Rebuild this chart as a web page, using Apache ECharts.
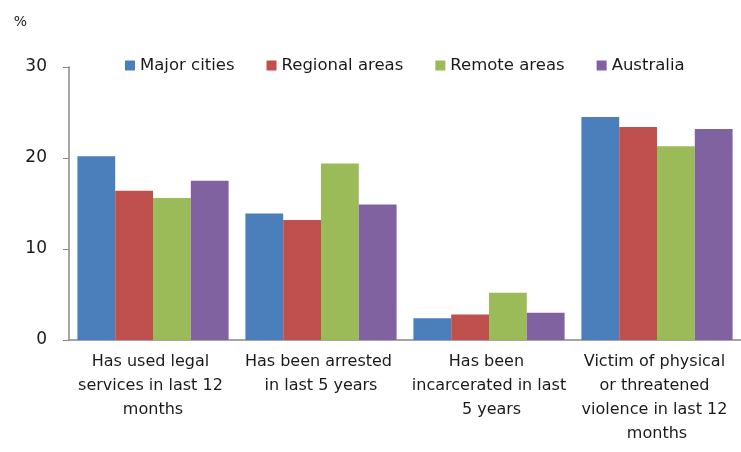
<!DOCTYPE html>
<html>
<head>
<meta charset="utf-8">
<script src="https://cdn.jsdelivr.net/npm/echarts@6/dist/echarts.min.js"></script>
<style>
  html, body { margin: 0; padding: 0; background: #fff; }
  #main { width: 741px; height: 452px; }
</style>
</head>
<body>
<div id="main"></div>
<script>
// categories and values
var categories = [
    'Has used legal services in last 12 months',
    'Has been arrested in last 5 years',
    'Has been incarcerated in last 5 years',
    'Victim of physical or threatened violence in last 12 months'
];
var majorCities = [20.2, 13.9, 2.4, 24.5];
var regionalAreas = [16.4, 13.2, 2.8, 23.4];
var remoteAreas = [15.6, 19.4, 5.2, 21.3];
var australia = [17.5, 14.9, 3.0, 23.2];
var yTicks = [0, 10, 20, 30];

var fontName = 'DejaVu Sans, sans-serif';
var textColor = '#1a1a1a';

function makeSeries(name, data, color) {
    return {
        name: name,
        type: 'bar',
        data: data,
        barGap: '0%',
        barCategoryGap: '10%',
        itemStyle: { color: color }
    };
}

var chart = echarts.init(document.getElementById('main'));
chart.setOption({
    animation: false,
    textStyle: { fontFamily: fontName },
    grid: { left: 69, right: 0, top: 67, bottom: 112 },
    legend: {
        top: 52,
        left: 120,
        itemWidth: 10,
        itemHeight: 10,
        itemGap: 32,
        icon: 'rect',
        textStyle: { fontSize: 16.5, color: textColor, fontFamily: fontName }
    },
    xAxis: {
        type: 'category',
        data: categories,
        axisLine: { lineStyle: { color: '#888', width: 1.5 } },
        axisTick: { length: 5, lineStyle: { color: '#888' } },
        axisLabel: {
            interval: 0,
            width: 159,
            overflow: 'break',
            fontSize: 16,
            lineHeight: 24,
            color: textColor,
            margin: 10
        }
    },
    yAxis: {
        type: 'value',
        min: 0,
        max: 30,
        interval: 10,
        name: '%',
        nameLocation: 'end',
        nameGap: 38,
        nameTextStyle: { fontSize: 14, color: textColor, align: 'right', padding: [0, 42, 0, 0] },
        axisLine: { show: true, lineStyle: { color: '#888', width: 1.5 } },
        axisTick: { show: true, length: 6, lineStyle: { color: '#888' } },
        splitLine: { show: false },
        axisLabel: {
            fontSize: 17,
            color: textColor,
            margin: 22,
            formatter: function (v) { return yTicks.indexOf(v) >= 0 ? String(v) : ''; }
        }
    },
    series: [
        makeSeries('Major cities', majorCities, '#4a7fbb'),
        makeSeries('Regional areas', regionalAreas, '#c0504d'),
        makeSeries('Remote areas', remoteAreas, '#9bbb59'),
        makeSeries('Australia', australia, '#8062a1')
    ]
});
</script>
</body>
</html>
